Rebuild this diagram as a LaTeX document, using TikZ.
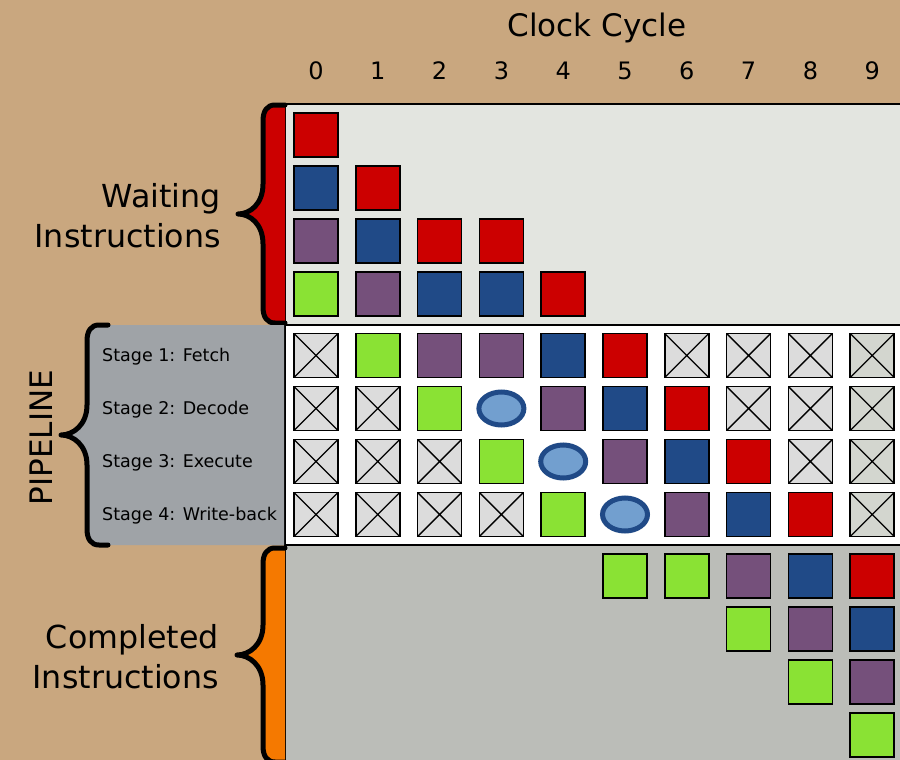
\documentclass[tikz,border=0pt]{standalone}
\usepackage{fontspec}
\setmainfont{DejaVu Sans}
\usetikzlibrary{shapes.geometric}
\definecolor{bgtan}{HTML}{C9A77F}
\definecolor{waitfill}{HTML}{E3E5E0}
\definecolor{donefill}{HTML}{BBBDB8}
\definecolor{stagegray}{HTML}{9FA3A7}
\definecolor{cr}{HTML}{CC0000}
\definecolor{cb}{HTML}{204A87}
\definecolor{cp}{HTML}{75507B}
\definecolor{cg}{HTML}{8AE234}
\definecolor{xgray}{HTML}{DCDCDC}
\definecolor{xgraylast}{HTML}{D3D6CF}
\definecolor{bubblefill}{HTML}{729FCF}
\definecolor{bracered}{HTML}{CC0000}
\definecolor{braceorange}{HTML}{F57900}
\newcommand\curlybrace[7]{%
 \fill[#1] (#2,#6) -- ({#4+12},#6) .. controls ({#4+4},#6) and (#4,{#6+6}) .. (#4,{#6+16})
   -- (#4,{(#6+#7)/2-30}) .. controls (#4,{(#6+#7)/2-10}) and ({#5+12},{(#6+#7)/2}) .. (#5,{(#6+#7)/2})
   .. controls ({#5+12},{(#6+#7)/2}) and (#4,{(#6+#7)/2+10}) .. (#4,{(#6+#7)/2+30})
   -- (#4,{#7-16}) .. controls (#4,{#7-6}) and ({#4+4},#7) .. ({#4+12},#7) -- (#2,#7) -- cycle;
 \draw[line width=5pt, line cap=round, line join=round] (#3,#6) -- ({#4+12},#6) .. controls ({#4+4},#6) and (#4,{#6+6}) .. (#4,{#6+16})
   -- (#4,{(#6+#7)/2-30}) .. controls (#4,{(#6+#7)/2-10}) and ({#5+12},{(#6+#7)/2}) .. (#5,{(#6+#7)/2})
   .. controls ({#5+12},{(#6+#7)/2}) and (#4,{(#6+#7)/2+10}) .. (#4,{(#6+#7)/2+30})
   -- (#4,{#7-16}) .. controls (#4,{#7-6}) and ({#4+4},#7) .. ({#4+12},#7) -- (#3,#7);
}
\begin{document}
\begin{tikzpicture}[x=1pt,y=-1pt,
  cell/.style={draw=black, line width=1.6pt, minimum width=44pt, minimum height=44pt, inner sep=0pt, outer sep=0pt},
  xbox/.style={cell, path picture={\draw[line width=1.3pt]
     (path picture bounding box.north west) -- (path picture bounding box.south east)
     (path picture bounding box.north east) -- (path picture bounding box.south west);}},
  bubble/.style={ellipse, draw=cb, line width=5pt, fill=bubblefill, minimum width=45pt, minimum height=33pt, inner sep=0pt},
  bigtext/.style={font=\fontsize{31}{37}\selectfont},
  sidetext/.style={font=\fontsize{31.7}{38}\selectfont, anchor=base east, inner sep=0pt},
  numtext/.style={font=\fontsize{24}{29}\selectfont, anchor=base},
  stagetext/.style={font=\fontsize{17.5}{21}\selectfont, anchor=base west, inner sep=0pt}
]
\useasboundingbox (0,0) rectangle (900,760);
\fill[bgtan] (0,0) rectangle (900,760);
% panels
\fill[waitfill] (285,104) rectangle (900,324);
\fill[white] (285,324) rectangle (900,545);
\fill[donefill] (285,545) rectangle (900,760);
\draw[line width=2pt] (900,104) -- (285,104) -- (285,760);
\draw[line width=2pt] (285,324.5) -- (900,324.5);
\draw[line width=2pt] (285,545) -- (900,545);
% braces
\curlybrace{bracered}{285}{285}{263}{238}{105}{323}
\curlybrace{stagegray}{284}{108}{87}{61}{325}{545}
\curlybrace{braceorange}{285}{285}{263}{237}{548}{762}
% titles
\node[bigtext, anchor=base] (title) at (597,37) {Clock Cycle};
\foreach \c in {0,...,9} {
  \node[numtext] (n\c) at ({316+61.8*\c},80) {\c};
}
\node[sidetext] (wait1) at (221,207) {Waiting};
\node[sidetext] (wait2) at (221,247) {Instructions};
\node[sidetext] (done1) at (219,648) {Completed};
\node[sidetext] (done2) at (219,688) {Instructions};
\node[bigtext, anchor=base, rotate=90, inner sep=0pt] (pipe) at (52,437.5) {PIPELINE};
\node[stagetext] (s1) at (102,361) {Stage 1: Fetch};
\node[stagetext] (s2) at (102,414) {Stage 2: Decode};
\node[stagetext] (s3) at (102,467) {Stage 3: Execute};
\node[stagetext] (s4) at (102,520) {Stage 4: Write-back};
% waiting instructions
\foreach \c/\r/\col in {0/0/cr, 0/1/cb, 1/1/cr, 0/2/cp, 1/2/cb, 2/2/cr, 3/2/cr,
    0/3/cg, 1/3/cp, 2/3/cb, 3/3/cb, 4/3/cr} {
  \node[cell, fill=\col] (w-\r-\c) at ({316+61.8*\c},{135+53*\r}) {};
}
% pipeline
\foreach \c/\r/\col in {1/0/cg, 2/0/cp, 3/0/cp, 4/0/cb, 5/0/cr,
    2/1/cg, 4/1/cp, 5/1/cb, 6/1/cr,
    3/2/cg, 5/2/cp, 6/2/cb, 7/2/cr,
    4/3/cg, 6/3/cp, 7/3/cb, 8/3/cr} {
  \node[cell, fill=\col] (p-\r-\c) at ({316+61.8*\c},{355.5+53*\r}) {};
}
\foreach \c/\r/\col in {0/0/xgray, 6/0/xgray, 7/0/xgray, 8/0/xgray, 9/0/xgraylast,
    0/1/xgray, 1/1/xgray, 7/1/xgray, 8/1/xgray, 9/1/xgraylast,
    0/2/xgray, 1/2/xgray, 2/2/xgray, 8/2/xgray, 9/2/xgraylast,
    0/3/xgray, 1/3/xgray, 2/3/xgray, 3/3/xgray, 9/3/xgraylast} {
  \node[xbox, fill=\col] (p-\r-\c) at ({316+61.8*\c},{355.5+53*\r}) {};
}
\foreach \c/\r in {3/1, 4/2, 5/3} {
  \node[bubble] (p-\r-\c) at ({316+61.8*\c},{355.5+53*\r}) {};
}
% completed
\foreach \c/\r/\col in {5/0/cg, 6/0/cg, 7/0/cp, 8/0/cb, 9/0/cr,
    7/1/cg, 8/1/cp, 9/1/cb, 8/2/cg, 9/2/cp, 9/3/cg} {
  \node[cell, fill=\col] (d-\r-\c) at ({316+61.8*\c},{576+53*\r}) {};
}
\end{tikzpicture}
\end{document}
